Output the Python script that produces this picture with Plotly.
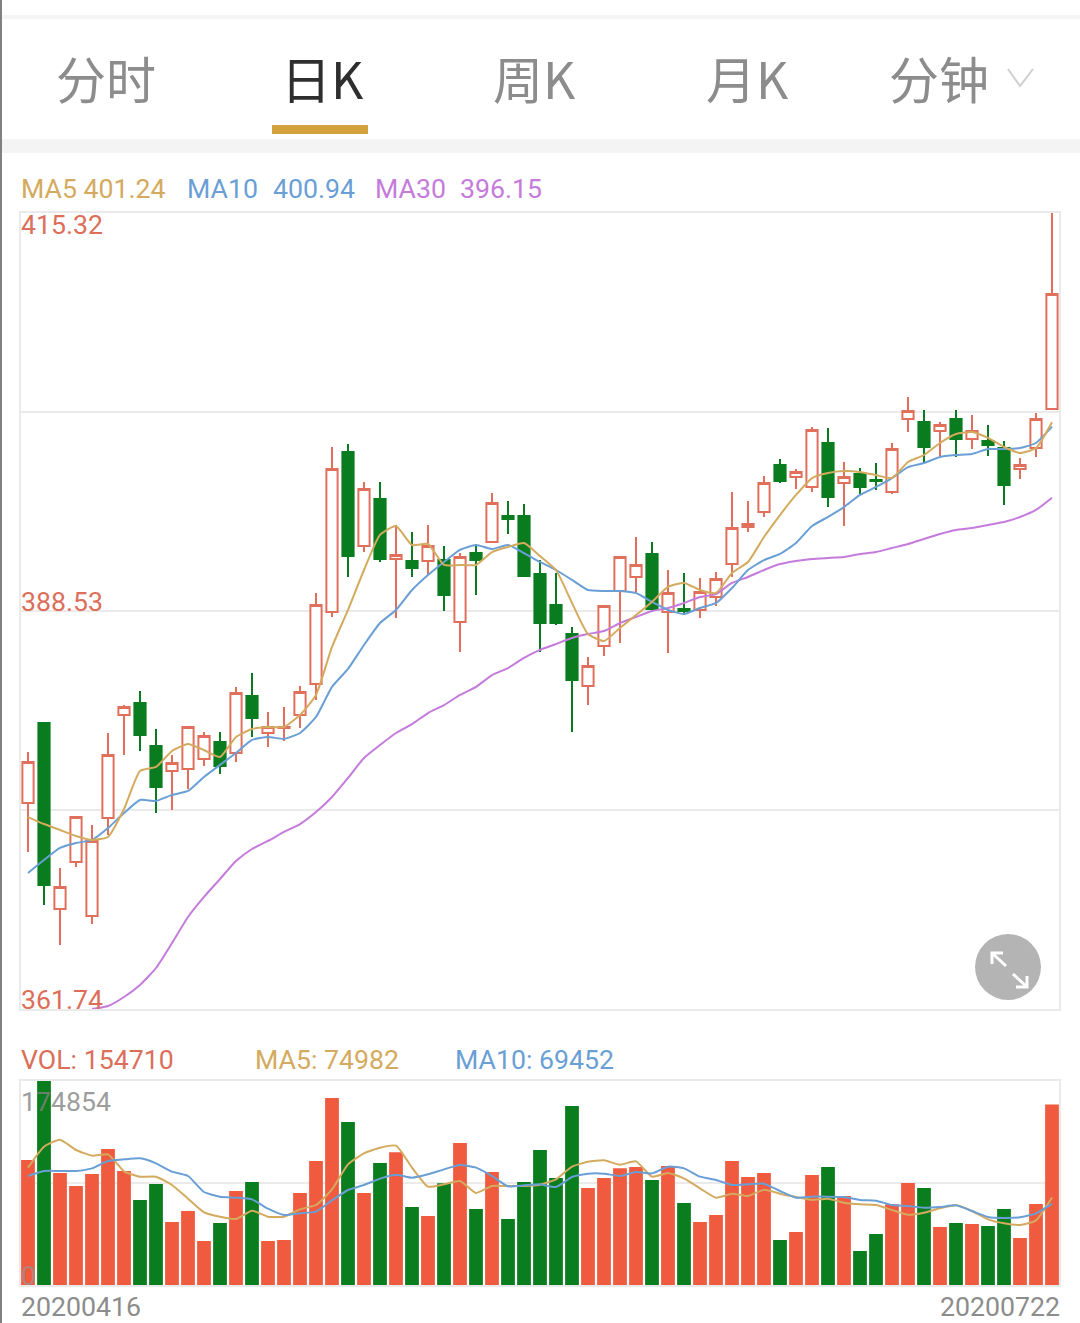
import plotly.graph_objects as go

W, H = 1080, 1323

# ---------- data ----------
open_p = [375.61,380.99,368.47,371.64,368.00,374.60,381.53,382.34,379.44,377.76,377.90,378.57,379.71,378.97,382.81,380.32,380.65,381.53,383.62,388.46,399.23,392.91,396.07,392.03,391.90,391.90,391.96,387.79,392.43,393.17,394.93,394.93,391.02,388.93,386.98,383.48,386.17,389.88,390.82,392.37,388.46,388.67,388.60,389.47,391.69,394.18,395.19,398.36,397.55,396.88,399.84,397.15,397.75,397.35,396.54,401.45,401.25,400.65,401.45,400.11,399.97,399.50,398.09,399.50,402.13]
high_p = [379.04,380.99,371.23,374.66,374.13,380.32,382.20,383.15,380.59,378.84,380.72,380.39,380.39,383.42,384.36,381.73,382.07,383.48,389.74,399.57,399.77,397.21,397.21,394.32,393.85,394.32,392.91,392.43,393.04,396.47,395.93,395.73,391.96,391.09,387.45,385.43,388.87,392.23,393.51,393.17,391.29,391.09,390.75,391.16,396.54,395.93,397.62,398.76,398.09,400.92,400.85,398.56,398.16,398.49,399.84,402.93,402.06,401.25,402.06,401.72,401.05,399.97,398.83,401.86,415.32]
low_p = [372.31,368.74,366.05,371.30,367.46,373.45,378.84,379.11,374.93,375.14,376.55,378.10,377.56,378.37,380.05,379.38,379.78,380.65,382.54,388.13,390.82,392.50,391.83,388.06,390.82,390.95,388.53,385.77,389.61,393.17,393.71,390.82,385.77,387.59,380.39,382.20,385.50,386.38,389.81,388.46,385.70,388.26,388.06,388.87,390.82,393.85,394.86,397.15,396.74,396.54,395.53,394.25,396.41,396.68,396.41,400.58,398.49,398.90,398.90,399.43,398.96,395.67,397.42,398.90,402.13]
close_p = [378.37,370.09,369.95,374.66,373.05,378.84,382.07,380.18,376.68,378.30,380.72,380.12,378.10,383.01,381.33,380.72,380.72,383.08,388.93,398.09,392.23,396.74,392.03,392.30,391.42,392.91,389.61,392.17,391.96,395.80,394.72,390.89,387.72,387.72,383.89,384.83,388.87,392.17,391.63,388.67,389.74,388.53,389.81,390.68,394.12,394.39,397.15,397.28,397.89,400.71,396.20,397.55,396.88,397.28,399.43,401.99,399.57,401.05,400.11,400.65,399.70,397.01,398.36,401.45,409.87]

ma5 = [374.66,374.19,373.79,373.39,373.12,373.32,375.20,377.76,378.03,379.11,379.58,379.17,378.70,380.05,380.59,380.72,380.72,381.53,382.88,386.11,388.60,391.29,393.65,394.25,392.97,393.04,391.63,391.63,391.63,392.50,392.84,393.11,392.23,391.29,389.07,386.98,386.51,387.39,388.26,389.14,390.15,390.42,389.94,389.74,391.09,391.83,393.51,394.99,396.34,397.48,397.82,397.95,397.89,397.68,397.48,398.56,399.03,399.84,400.44,400.58,400.18,399.57,399.17,399.50,401.24]
ma10 = [370.90,371.77,372.58,372.91,373.12,373.92,374.93,375.81,375.74,376.15,376.42,377.36,378.17,378.97,379.85,380.05,379.92,380.32,381.40,383.42,384.63,386.24,387.72,388.60,389.94,390.95,391.83,392.64,392.97,392.70,392.97,392.43,391.83,391.29,390.62,389.94,389.88,389.88,389.74,389.14,388.60,388.33,388.73,389.07,390.08,391.29,391.96,392.37,393.11,394.25,394.86,395.53,396.34,396.88,397.48,398.22,398.49,398.90,399.03,399.10,399.43,399.43,399.50,399.84,400.94]
ma30 = [None,None,None,None,361.74,361.94,362.55,363.36,364.50,366.18,367.93,369.28,370.49,371.70,372.51,373.05,373.66,374.19,375.00,376.01,377.29,378.64,379.51,380.32,380.92,381.66,382.20,382.88,383.42,384.22,384.69,385.37,385.91,386.31,386.71,386.98,387.18,387.72,388.13,388.53,388.73,389.07,389.47,389.67,390.42,390.82,391.29,391.69,391.90,392.03,392.10,392.17,392.37,392.50,392.77,393.04,393.38,393.71,393.98,394.12,394.32,394.52,394.86,395.33,396.15]

volume = [107140,174854,95995,84853,95138,116566,97709,72854,86567,53997,63425,37712,53140,80567,88281,37712,38570,78853,106280,160278,139707,78853,104566,113709,66854,59140,87139,121708,65140,96852,56569,88281,115709,91710,153421,83139,91710,99995,101138,89995,101995,70282,53997,59997,106280,92567,95995,38570,45426,94281,101138,76282,29141,43712,69139,87424,83139,49712,53140,52283,50569,65140,40284,69425,154710]
vol_ma5 = [100566,118566,124565,115709,110852,111994,97424,92853,92853,85710,73996,62283,58569,56569,63711,58569,58569,64854,68568,81996,103423,112852,117708,119423,100566,84282,86281,89138,78853,84853,84853,84853,85996,90567,101424,105709,106852,103138,105995,92853,95995,91424,82853,74853,78282,76282,81710,78282,75425,72854,73996,70568,69139,68568,64283,60283,61997,65711,68282,63425,56283,52855,51426,55426,74982]
vol_ma10 = [93424,97709,97709,97709,99995,106280,107709,108566,104281,97138,93424,79710,75711,74853,73425,65425,59997,61426,62854,72568,81425,85710,91138,94567,91995,94852,99138,102852,100566,93424,84567,85424,86281,83996,92567,95424,95424,93424,96852,95710,101424,99995,92853,89996,85710,86281,86853,80567,74853,75711,75711,75425,72854,72282,68568,67711,66282,66854,68282,63425,58283,57426,57997,61426,69452]

price_ticks = [361.74, 375.135, 388.53, 401.925, 415.32]
vol_ticks = [0, 87427, 174854]
tabs = ["分时", "日K", "周K", "月K", "分钟"]
first_date, last_date = "20200416", "20200722"

x = list(range(len(close_p)))

# ---------- colours ----------
RED_LINE, GREEN = "#E0705C", "#0A7C20"
VOL_RED, VOL_GREEN = "#F05A3E", "#0A7D1E"
GOLD, BLUE, PURPLE = "#D4AA5E", "#6A9FD6", "#C57BDB"
TXT_RED = "#DC6E5A"
GRID = "#EAEAEA"

def px(v): return v / W
def py(v): return 1 - v / H

SMOOTH = dict(shape="spline", smoothing=0.5, width=2)

fig = go.Figure()
fig.add_trace(go.Candlestick(
    x=x, open=open_p, high=high_p, low=low_p, close=close_p,
    xaxis="x", yaxis="y", whiskerwidth=0,
    increasing=dict(line=dict(color=RED_LINE, width=2), fillcolor="#FFFFFF"),
    decreasing=dict(line=dict(color=GREEN, width=2), fillcolor=GREEN),
    showlegend=False, hoverinfo="skip"))
for name, ys, c in [("MA30", ma30, PURPLE), ("MA10", ma10, BLUE), ("MA5", ma5, GOLD)]:
    fig.add_trace(go.Scatter(x=x, y=ys, mode="lines", name=name, xaxis="x", yaxis="y",
                             line=dict(color=c, **SMOOTH), showlegend=False, hoverinfo="skip"))

vol_colors = [VOL_RED if c >= o else VOL_GREEN for o, c in zip(open_p, close_p)]
fig.add_trace(go.Bar(x=x, y=volume, xaxis="x2", yaxis="y2", marker=dict(color=vol_colors, line=dict(width=0)),
                     showlegend=False, hoverinfo="skip", cliponaxis=False))
for name, ys, c in [("VOL MA5", vol_ma5, GOLD), ("VOL MA10", vol_ma10, BLUE)]:
    fig.add_trace(go.Scatter(x=x, y=ys, mode="lines", name=name, xaxis="x2", yaxis="y2",
                             line=dict(color=c, **SMOOTH), showlegend=False, hoverinfo="skip"))

# ---------- text ----------
ann = []
def text(s, xp, yp, color, size=26.7, anchor="left", family="Roboto, sans-serif"):
    ann.append(dict(text=s, x=px(xp), y=py(yp), xref="paper", yref="paper", xanchor=anchor, yanchor="middle",
                    showarrow=False, borderpad=0, font=dict(family=family, size=size, color=color)))

CJK = "Noto Sans CJK SC, sans-serif"
text(tabs[0], 106, 77, "#8C8C8C", 50, "center", CJK)
text(tabs[1], 322, 77, "#2E2E2E", 50, "center", CJK)
text(tabs[2], 534, 77, "#8C8C8C", 50, "center", CJK)
text(tabs[3], 747, 77, "#8C8C8C", 50, "center", CJK)
text(tabs[4], 939, 77, "#8C8C8C", 50, "center", CJK)

text("MA5 401.24", 20, 189, GOLD)
text("MA10", 186, 189, BLUE)
text("400.94", 272, 189, BLUE)
text("MA30", 374, 189, PURPLE)
text("396.15", 459, 189, PURPLE)

text(f"{price_ticks[4]:.2f}", 20, 225, TXT_RED)
text(f"{price_ticks[2]:.2f}", 20, 602, TXT_RED)
text(f"{price_ticks[0]:.2f}", 20, 1000, TXT_RED)

text("VOL: 154710", 20, 1060, TXT_RED)
text("MA5: 74982", 254, 1060, GOLD)
text("MA10: 69452", 454, 1060, BLUE)
text(str(vol_ticks[2]), 20, 1102, "rgba(130,130,130,0.8)")
text(str(vol_ticks[0]), 20, 1276, "rgba(150,150,150,0.7)")
text(first_date, 20, 1307, "#8C8C8C")
text(last_date, 1061, 1307, "#8C8C8C", anchor="right")

# ---------- page furniture ----------
shapes = []
def rect(x0, y0, x1, y1, color, layer="below"):
    shapes.append(dict(type="rect", xref="paper", yref="paper", x0=px(x0), x1=px(x1), y0=py(y0), y1=py(y1),
                       fillcolor=color, line=dict(width=0), layer=layer))
def poly(points, color, width):
    shapes.append(dict(type="path", xref="paper", yref="paper", layer="above",
                       path="M " + " L ".join(f"{px(a)},{py(b)}" for a, b in points),
                       line=dict(color=color, width=width)))

rect(0, 15, W, 19, "#F5F5F5")
rect(0, 139, W, 153, "#F4F4F4")
rect(272, 125, 368, 134, "#D3A23E")
rect(0, 0, 2, H, "#808080", "above")
poly([(1008, 69), (1020, 86), (1033, 69)], "#CFCFCF", 2)
shapes.append(dict(type="circle", xref="paper", yref="paper", layer="above",
                   x0=px(975), x1=px(1041), y0=py(934), y1=py(1000),
                   fillcolor="#B4B4B4", line=dict(width=0)))
poly([(992, 964), (992, 953), (1003, 953)], "#FFFFFF", 3)
poly([(992, 953), (1006, 966)], "#FFFFFF", 3)
poly([(1016, 987), (1027, 987), (1027, 976)], "#FFFFFF", 3)
poly([(1013, 974), (1027, 987)], "#FFFFFF", 3)

xaxis_common = dict(range=[-0.4375, 64.4375], showgrid=False, zeroline=False, showticklabels=False,
                    ticks="", showline=True, linecolor=GRID, linewidth=1.5, mirror=True,
                    rangeslider=dict(visible=False), fixedrange=True)
yaxis_common = dict(showgrid=True, gridcolor=GRID, gridwidth=1.5, zeroline=False, showticklabels=False,
                    ticks="", showline=True, linecolor=GRID, linewidth=1.5, mirror=True, fixedrange=True)

fig.update_layout(
    width=W, height=H, margin=dict(l=0, r=0, t=0, b=0, pad=0),
    paper_bgcolor="#FFFFFF", plot_bgcolor="rgba(0,0,0,0)",
    showlegend=False, bargap=0.14, boxgap=0, boxgroupgap=0.3, hovermode=False,
    xaxis=dict(domain=[px(21), px(1059)], anchor="y", **xaxis_common),
    yaxis=dict(domain=[py(1009), py(213)], anchor="x", range=[price_ticks[0], price_ticks[4]],
               tickvals=price_ticks, **yaxis_common),
    xaxis2=dict(domain=[px(21), px(1059)], anchor="y2", **xaxis_common),
    yaxis2=dict(domain=[py(1285), py(1081)], anchor="x2", range=[vol_ticks[0], vol_ticks[2]],
                tickvals=vol_ticks, **yaxis_common),
    annotations=ann, shapes=shapes,
)

fig.write_html("out.html", config=dict(displayModeBar=False),
               post_script="document.body.style.margin='0';document.documentElement.style.overflow='hidden';")
